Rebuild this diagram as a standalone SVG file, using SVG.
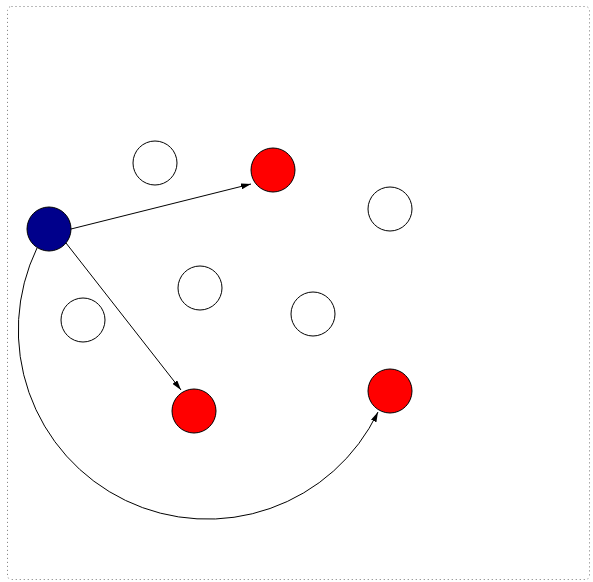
<svg xmlns="http://www.w3.org/2000/svg" width="593" height="582" viewBox="0 0 593 582">
<style>
.frame{fill:none;stroke:#777;stroke-width:1;stroke-dasharray:1 3}
.n{stroke:#000;stroke-width:1}
.w{fill:#fff}
.r{fill:#ff0000}
.b{fill:#00008b}
.e{fill:none;stroke:#000;stroke-width:1}
</style>
<defs>
<marker id="ah" viewBox="0 0 10 6" refX="10" refY="3" markerWidth="10" markerHeight="6" markerUnits="userSpaceOnUse" orient="auto">
<path d="M0,0 L10,3 L0,6 Z" fill="#000"/>
</marker>
</defs>
<rect class="frame" x="7.5" y="6.5" width="582" height="573" rx="4"/>
<g id="connectors">
<path class="e" d="M71,229 L251,184" marker-end="url(#ah)"/>
<path class="e" d="M66,243 L181,390" marker-end="url(#ah)"/>
<path class="e" d="M37,248 A189,189 0 0 0 378,412" marker-end="url(#ah)"/>
</g>
<g id="n0"><circle class="n b" cx="49" cy="229" r="22"/></g>
<g id="n1"><circle class="n w" cx="155" cy="163" r="22"/></g>
<g id="n2"><circle class="n r" cx="273" cy="170" r="22"/></g>
<g id="n3"><circle class="n w" cx="390" cy="209" r="22"/></g>
<g id="n4"><circle class="n w" cx="200" cy="288" r="22"/></g>
<g id="n5"><circle class="n w" cx="83" cy="320" r="22"/></g>
<g id="n6"><circle class="n w" cx="313" cy="314" r="22"/></g>
<g id="n7"><circle class="n r" cx="194" cy="411" r="22"/></g>
<g id="n8"><circle class="n r" cx="390" cy="391" r="22"/></g>
</svg>
